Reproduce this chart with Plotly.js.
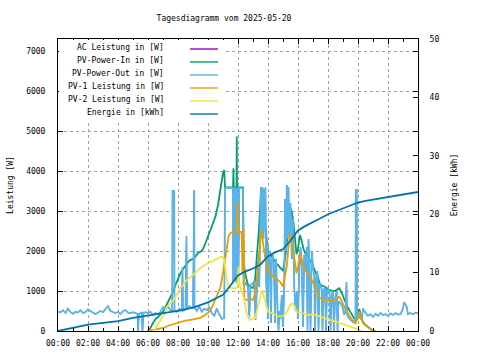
<!DOCTYPE html>
<html><head><meta charset="utf-8">
<script src="https://cdn.plot.ly/plotly-3.0.1.min.js"></script>
<style>html,body{margin:0;padding:0;background:#fff}#chart{width:480px;height:360px}</style>
</head><body><div id="chart"></div>
<script>
// ---- data ----
const chartTitle = 'Tagesdiagramm vom 2025-05-20';
const seriesNames = ['AC Leistung in [W]','PV-Power-In in [W]','PV-Power-Out in [W]','PV-1 Leistung in [W]','PV-2 Leistung in [W]','Energie in [kWh]'];

const outTime = ['00:00','00:10','00:20','00:30','00:40','00:50','01:00','01:10','01:20','01:30','01:40','01:50','02:00','02:10','02:20','02:30','02:40','02:50','03:00','03:10','03:20','03:30','03:40','03:50','04:00','04:10','04:20','04:30','04:40','04:50','05:00','05:10','05:18','05:20','05:24','05:35','05:38','05:42','05:50','06:00','06:10','06:20','06:30','06:40','06:50','07:00','07:10','07:20','07:30','07:37','07:38','07:45','07:46','07:55','08:05','08:15','08:18','08:20','08:30','08:34','08:36','08:45','08:55','09:00','09:02','09:05','09:06','09:15','09:25','09:35','09:45','09:55','10:05','10:15','10:25','10:35','10:45','10:55','11:05','11:08','11:40','11:41','11:43','11:47','11:49','11:54','11:56','12:02','12:05','12:20','12:22','12:30','12:40','12:45','12:50','13:00','13:05','13:10','13:15','13:22','13:25','13:30','13:32','13:35','13:38','13:42','13:45','13:48','13:50','13:53','13:56','13:58','14:00','14:03','14:08','14:12','14:15','14:20','14:24','14:28','14:32','14:38','14:42','14:45','14:50','14:55','15:00','15:05','15:08','15:12','15:15','15:18','15:22','15:25','15:30','15:35','15:40','15:45','15:50','15:55','16:00','16:05','16:10','16:15','16:20','16:25','16:30','16:35','16:38','16:42','16:45','16:50','16:55','17:00','17:05','17:08','17:12','17:18','17:22','17:26','17:30','17:35','17:38','17:42','17:48','17:52','17:56','18:00','18:06','18:10','18:15','18:20','18:24','18:28','18:35','18:38','18:42','18:48','18:55','19:00','19:05','19:10','19:14','19:16','19:20','19:30','19:40','19:50','19:51','19:55','19:56','20:05','20:15','20:20','20:30','20:40','20:50','21:00','21:10','21:20','21:30','21:40','21:50','22:00','22:10','22:20','22:30','22:40','22:50','23:00','23:05','23:15','23:20','23:30','23:40','23:50','24:00'];
const pvPowerOut = [480,470,520,450,560,470,430,480,460,520,450,470,540,500,470,420,460,500,470,560,620,500,470,450,480,420,500,520,460,450,470,440,430,0,430,460,0,450,470,440,480,400,450,420,480,600,550,610,520,500,3500,3500,520,480,560,500,1600,500,540,2360,560,620,580,600,3525,3525,580,500,620,480,560,520,600,450,380,560,420,300,320,3580,3580,1200,3580,1250,3580,1200,3580,1360,3570,3570,1150,1200,1100,300,1150,1200,1250,280,1100,1950,1100,2400,3600,2450,3600,2300,3550,2500,3600,1200,700,2200,300,1800,2000,200,1700,1900,1600,200,1800,600,0,500,300,900,100,1100,3300,2000,3650,2300,3600,2400,3200,1800,2800,1100,500,1000,300,1500,2100,1600,100,1900,1500,2100,0,2300,1700,0,2000,1600,1400,0,1300,1500,0,1200,1100,1050,0,1000,1100,0,1050,1000,1025,0,900,1000,0,800,1000,0,750,700,650,550,400,500,1225,450,350,280,220,300,3525,3525,300,350,280,560,450,380,420,350,430,380,450,400,420,380,440,400,450,410,420,560,720,600,420,450,420,460,450];
const acLeistung = pvPowerOut;

const inTime = ['06:00','06:10','06:20','06:30','06:40','06:50','07:00','07:10','07:20','07:30','07:40','07:50','08:00','08:10','08:20','08:30','08:40','08:50','09:00','09:10','09:20','09:30','09:40','09:50','10:00','10:10','10:20','10:30','10:40','10:50','11:00','11:05','11:08','11:40','11:42','11:43','11:54','11:55','11:56','12:20','12:23','12:30','12:40','12:50','13:00','13:08','13:15','13:22','13:28','13:32','13:35','13:40','13:48','14:00','14:10','14:20','14:35','14:48','15:00','15:08','15:15','15:22','15:28','15:35','15:42','15:48','15:54','16:00','16:08','16:15','16:22','16:32','16:45','16:55','17:05','17:10','17:20','17:28','17:40','17:50','18:05','18:20','18:30','18:45','18:55','19:05','19:15','19:28','19:40','19:50','19:58','20:05','20:10','20:20','20:30','20:45','20:55','21:10'];
const pvPowerIn = [0,80,200,300,350,420,480,600,720,860,980,1150,1300,1450,1550,1650,1720,1780,1800,1860,1950,1980,2050,2200,2360,2500,2700,2860,3150,3600,3950,4025,3590,3590,4070,3590,3590,4860,3590,3590,1700,1400,1150,1100,1075,1260,1780,2400,3000,3550,3500,3150,2650,2000,1900,1800,1680,1590,1500,1800,2150,2700,3090,2980,2700,2300,1920,2070,2400,2250,2050,1900,1800,1690,1570,1470,1330,1170,1120,1100,1020,1000,1010,1070,950,780,640,490,360,260,350,550,420,220,150,85,30,0];

const pv1Time = ['06:00','06:30','07:00','07:30','08:00','08:30','09:00','09:30','10:00','10:10','10:20','10:30','10:40','10:50','11:00','11:08','11:15','11:22','11:30','11:40','11:55','11:58','12:00','12:14','12:18','12:22','12:25','12:35','12:50','13:00','13:08','13:15','13:22','13:28','13:35','13:40','13:48','14:00','14:10','14:20','14:35','14:48','15:00','15:08','15:15','15:22','15:28','15:35','15:42','15:48','15:54','16:00','16:08','16:15','16:22','16:32','16:45','16:55','17:05','17:10','17:20','17:28','17:40','17:50','18:05','18:20','18:30','18:45','18:55','19:05','19:15','19:28','19:40','19:50','19:58','20:05','20:10','20:20','20:30','20:45','20:55','21:10'];
const pv1Leistung = [0,30,75,150,200,260,290,330,450,525,650,800,950,1100,1450,1775,2100,2360,2450,2480,2480,3230,2480,2480,1450,2550,800,775,800,775,940,1300,1690,2200,2525,2200,1860,1525,1450,1360,1300,1230,1110,1350,1610,2100,2440,2300,2025,1700,1440,1600,1940,1800,1610,1480,1400,1275,1150,1070,950,820,780,775,735,760,775,860,750,600,480,360,250,190,300,480,360,200,140,80,25,0];

const pv2Time = ['06:20','06:35','06:50','07:05','07:15','07:30','07:42','07:55','08:08','08:20','08:35','08:50','09:00','09:15','09:28','09:45','10:00','10:15','10:30','10:45','10:55','11:05','11:10','11:15','11:22','11:35','11:50','11:58','12:02','12:06','12:14','12:22','12:30','12:35','12:48','13:00','13:08','13:15','13:25','13:35','13:42','13:48','14:00','14:20','14:40','14:50','15:05','15:18','15:28','15:40','15:48','15:54','16:10','16:25','16:45','17:00','17:10','17:30','17:50','18:10','18:30','18:50','19:10','19:30','19:50','20:15'];
const pv2Leistung = [0,100,275,420,600,700,775,900,1070,1150,1275,1350,1400,1480,1570,1640,1700,1740,1780,1830,1860,1800,1500,1275,1110,1070,1070,1100,1610,1200,1000,860,600,440,275,300,320,480,800,1025,900,775,480,440,370,360,400,500,650,690,600,480,460,440,400,420,400,360,320,280,235,200,150,110,65,0];

const energyTime = ['00:00','01:00','02:00','03:00','04:00','05:00','06:00','07:00','08:00','09:00','10:00','10:30','11:00','11:30','12:00','12:30','13:00','13:30','14:00','14:30','15:00','15:30','16:00','16:30','17:00','17:30','18:00','18:30','19:00','19:30','20:00','20:30','21:00','22:00','23:00','24:00'];
const energyKWh = [0,0.55,1.1,1.4,1.7,2.25,2.7,3.05,3.45,4.0,4.9,5.5,6.2,7.8,9.5,10.2,10.7,11.4,12.8,13.5,14.0,15.5,17.2,18.0,18.6,19.3,20.0,20.5,20.9,21.4,22.0,22.3,22.5,23.0,23.4,23.8];

const colors = ['#9400d3','#009e73','#56b4e9','#e69f00','#f0e442','#0072b2'];
const widths = [1, 1.8, 1.8, 1.8, 1.8, 1.8];

// ---- helpers ----
function ts(t){ return t === '24:00' ? '2025-05-21 00:00' : '2025-05-20 ' + t; }
const FONT = {family: 'DejaVu Sans Mono, monospace', size: 8, color: '#000'};

const seriesX = [outTime, inTime, outTime, pv1Time, pv2Time, energyTime];
const seriesY = [acLeistung, pvPowerIn, pvPowerOut, pv1Leistung, pv2Leistung, energyKWh];

const traces = seriesNames.map((name, i) => ({
  type: 'scatter', mode: 'lines', name: name,
  x: seriesX[i].map(ts), y: seriesY[i],
  yaxis: i === 5 ? 'y2' : 'y',
  line: {color: colors[i], width: widths[i]},
  hoverinfo: 'skip'
}));

// legend drawn inside the plot, text left of sample line (gnuplot style)
const L = 58, R = 418, T = 39, B = 331;
const px = x => (x - L) / (R - L);
const py = y => (B - y) / (B - T);
const rowY = [49, 62, 75, 88, 101, 114];
const annotations = [];
const shapes = [{type: 'rect', xref: 'paper', yref: 'paper', layer: 'above',
  x0: px(L + 1), x1: px(225), y0: py(120), y1: py(T + 1),
  fillcolor: '#fff', line: {width: 0}}];
seriesNames.forEach((name, i) => {
  annotations.push({xref: 'paper', yref: 'paper', x: px(166), y: py(rowY[i] - 1.5),
    xanchor: 'right', yanchor: 'middle', text: name, showarrow: false, font: FONT});
  shapes.push({type: 'line', xref: 'paper', yref: 'paper', layer: 'above', x0: px(190), x1: px(218),
    y0: py(rowY[i]), y1: py(rowY[i]), line: {color: colors[i], width: 1.4}});
});

const layout = {
  width: 480, height: 360,
  margin: {l: L, r: 480 - R, t: T, b: 360 - B, pad: 0},
  paper_bgcolor: '#fff', plot_bgcolor: '#fff',
  font: FONT,
  showlegend: false,
  title: {text: chartTitle, font: FONT, x: 224 / 480, xref: 'container', xanchor: 'center',
          y: 1 - 18 / 360, yref: 'container', yanchor: 'middle'},
  xaxis: {
    type: 'date', range: ['2025-05-20 00:00', '2025-05-21 00:00'],
    dtick: 7200000, tick0: '2025-05-20 00:00', tickformat: '%H:%M',
    ticks: 'inside', ticklen: 5, tickcolor: '#000', mirror: 'ticks',
    showline: true, linecolor: '#000', linewidth: 1,
    showgrid: true, gridcolor: '#a0a0a0', griddash: '3px,3px', gridwidth: 1,
    zeroline: false, ticklabelstandoff: 4,
    minor: {dtick: 3600000, ticks: 'inside', ticklen: 3, tickcolor: '#000', showgrid: false},
    tickfont: FONT, fixedrange: true
  },
  yaxis: {
    range: [0, 7300], tick0: 0, dtick: 1000,
    ticks: 'inside', ticklen: 5, tickcolor: '#000', mirror: 'ticks',
    showline: true, linecolor: '#000', linewidth: 1,
    showgrid: true, gridcolor: '#a0a0a0', griddash: '3px,3px', gridwidth: 1,
    zeroline: false, ticklabelstandoff: 10,
    title: {text: 'Leistung [W]', font: FONT, standoff: 11},
    tickfont: FONT, fixedrange: true
  },
  yaxis2: {
    overlaying: 'y', side: 'right', range: [0, 50], tick0: 0, dtick: 10,
    ticks: 'inside', ticklen: 5, tickcolor: '#000',
    showline: true, linecolor: '#000', linewidth: 1,
    showgrid: false, zeroline: false, ticklabelstandoff: 9,
    title: {text: 'Energie [kWh]', font: FONT, standoff: 12},
    tickfont: FONT, fixedrange: true
  },
  annotations: annotations,
  shapes: shapes
};

Plotly.newPlot('chart', traces, layout, {staticPlot: true, displayModeBar: false});
</script>
</body></html>
